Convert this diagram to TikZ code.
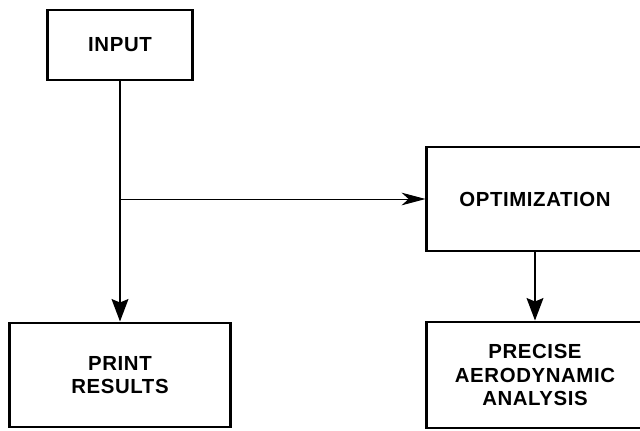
\documentclass[tikz,border=0pt]{standalone}
\usepackage{fontspec}
\newfontfamily\boxfont[LetterSpace=3]{Liberation Sans}
\usetikzlibrary{arrows.meta}

\begin{document}
\begin{tikzpicture}
      [x = 0.025cm, y = -0.025cm,
      block/.style= {
         draw,
         line width = 2.1pt,
         align = center,
         inner sep = 0pt,
         font = \boxfont\bfseries\fontsize{14.5}{16.5}\selectfont
      },
      flow/.style= {
         line width = 1.2pt,
         -{Stealth[length = 16pt, width = 12pt, inset = 2.5pt]}
      },
      branch/.style= {
         line width = 0.7pt,
         -{Stealth[length = 17pt, width = 9pt, inset = 5pt]}
      }]
      \useasboundingbox (0, 0) rectangle (640, 430);
      \clip (0, 0) rectangle (640, 430);

      \node[block, minimum width = 3.625cm, minimum height = 1.75cm] (input) at (120, 45) {INPUT};
      \node[block, minimum width = 5.5cm, minimum height = 2.6cm] (print) at (120, 375) {PRINT\\RESULTS};
      \node[block, minimum width = 5.4cm, minimum height = 2.6cm] (optim) at (535, 199) {OPTIMIZATION};
      \node[block, minimum width = 5.4cm, minimum height = 2.65cm] (precise) at (535, 375)
         {PRECISE\\AERODYNAMIC\\ANALYSIS};

      \coordinate (split) at (input.south |- optim.west);

      \draw[flow] (input.south) -- (print.north);
      \draw[branch] (split) -- (optim.west);
      \draw[flow] (optim.south) -- (precise.north);

   \end{tikzpicture}
\end{document}
